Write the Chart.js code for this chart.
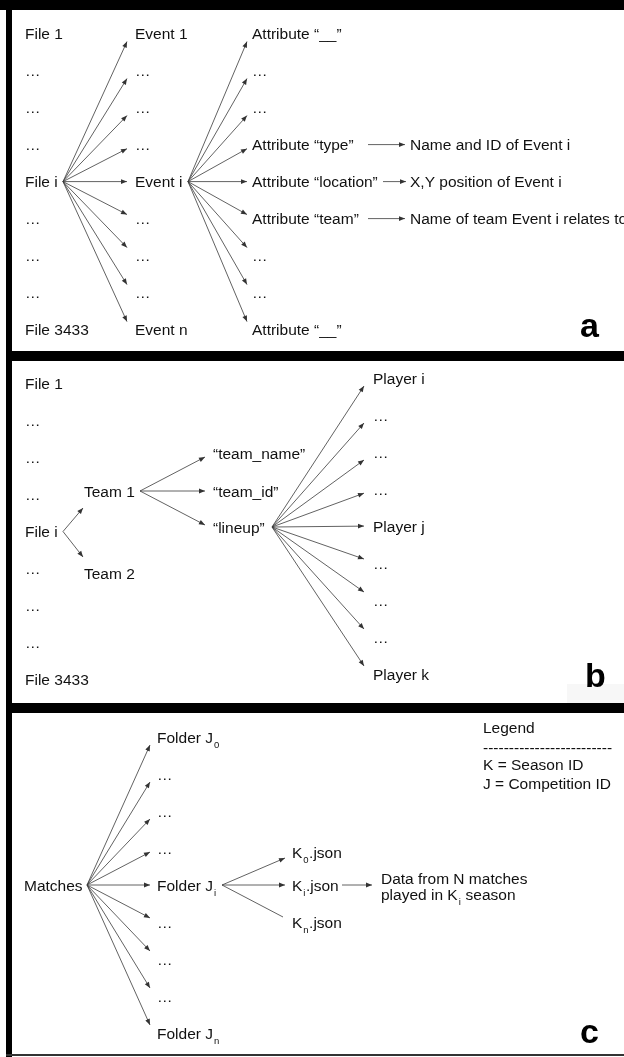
<!DOCTYPE html>
<html><head><meta charset="utf-8">
<script src="https://cdn.jsdelivr.net/npm/chart.js@4.4.0/dist/chart.umd.min.js"></script>
<style>html,body{margin:0;padding:0;background:#fff;}#wrap{width:624px;height:1057px;position:relative;}</style>
</head><body><div id="wrap"><canvas id="c"></canvas></div>
<script>
// ---------------- data (labels) ----------------
const aFiles = ["File 1","…","…","…","File i","…","…","…","File 3433"];
const aEvents = ["Event 1","…","…","…","Event i","…","…","…","Event n"];
const aAttributes = ["Attribute “__”","…","…","Attribute “type”","Attribute “location”","Attribute “team”","…","…","Attribute “__”"];
const aDetails = ["Name and ID of Event i","X,Y position of Event i","Name of team Event i relates to"];
const bFiles = ["File 1","…","…","…","File i","…","…","…","File 3433"];
const bTeams = ["Team 1","Team 2"];
const bTeamFields = ["“team_name”","“team_id”","“lineup”"];
const bPlayers = ["Player i","…","…","…","Player j","…","…","…","Player k"];
const cRoot = ["Matches"];
const cFolders = ["Folder J{0}","…","…","…","Folder J{i}","…","…","…","Folder J{n}"];
const cSeasons = ["K{0}.json","K{i}.json","K{n}.json"];
const cDetail = ["Data from N matches","played in K{i} season"];
const cLegend = ["Legend","-------------------------","K = Season ID","J = Competition ID"];
const panelLetters = ["a","b","c"];

// ---------------- layout (diagram coordinates) ----------------
const FONT = 15.5, CAP = 5.5;
const rowA = i => 33.6 + 37 * i;
const rowB = i => 383.5 + 37 * i;
const rowP = i => 378 + 37 * i;
const rowC = i => 737 + 37 * i;
const LAY = {
  a: { xFile: 25, xEvent: 135, xAttr: 252, xDetail: 410, srcFile: 63, srcEvent: 188, endEvent: 127, endAttr: 247,
       detailArrows: [[368, 405], [383, 406], [368, 405]], letter: [580, 337] },
  b: { xFile: 25, xTeam: 84, teamY: [491, 573], srcFile: 63, teamEnd: 83, teamArrowY: [508, 557], srcTeam: 140,
       xField: 213, fieldY: [453, 491, 527], fieldEnd: 205, fieldEndY: [457, 491, 525], srcLineup: [272, 527],
       xPlayer: 373, endPlayer: 364, letter: [585, 687] },
  c: { xRoot: 24, rootY: 885, srcRoot: 87, xFolder: 157, endFolder: 150, srcFolder: 222, xSeason: 292,
       seasonY: [852, 885, 922], seasonEnd: [[285, 858, true], [285, 885, true], [283, 917, false]],
       detailArrow: [342, 372], xDetail: 381, detailY: [878, 894.6], xLegend: 483, legendBase: [733, 752.5, 770, 789],
       letter: [580, 1043] }
};

// ---------------- build edges ----------------
const edges = [];
function adj(dy) { return -Math.sign(dy) * Math.min(8, Math.abs(dy) * 0.11); }
function fan(sx, sy, ex, ys) {
  ys.forEach(ty => edges.push({ x1: sx, y1: sy, x2: ex, y2: ty + adj(ty - sy), head: true }));
}
// panel a
fan(LAY.a.srcFile, rowA(4), LAY.a.endEvent, aEvents.map((_, i) => rowA(i)));
fan(LAY.a.srcEvent, rowA(4), LAY.a.endAttr, aAttributes.map((_, i) => rowA(i)));
aDetails.forEach((_, k) => edges.push({ x1: LAY.a.detailArrows[k][0], y1: rowA(3 + k), x2: LAY.a.detailArrows[k][1], y2: rowA(3 + k), head: true }));
// panel b
bTeams.forEach((_, k) => edges.push({ x1: LAY.b.srcFile, y1: rowB(4), x2: LAY.b.teamEnd, y2: LAY.b.teamArrowY[k], head: true }));
bTeamFields.forEach((_, k) => edges.push({ x1: LAY.b.srcTeam, y1: LAY.b.teamY[0], x2: LAY.b.fieldEnd, y2: LAY.b.fieldEndY[k], head: true }));
fan(LAY.b.srcLineup[0], LAY.b.srcLineup[1], LAY.b.endPlayer, bPlayers.map((_, i) => rowP(i)));
// panel c
fan(LAY.c.srcRoot, LAY.c.rootY, LAY.c.endFolder, cFolders.map((_, i) => rowC(i)));
cSeasons.forEach((_, k) => edges.push({ x1: LAY.c.srcFolder, y1: rowC(4), x2: LAY.c.seasonEnd[k][0], y2: LAY.c.seasonEnd[k][1], head: LAY.c.seasonEnd[k][2] }));
edges.push({ x1: LAY.c.detailArrow[0], y1: LAY.c.seasonY[1], x2: LAY.c.detailArrow[1], y2: LAY.c.seasonY[1], head: true });

// ---------------- texts ----------------
const texts = [];
function addCol(arr, x, rowFn) { arr.forEach((t, i) => texts.push({ t, x, y: rowFn(i) })); }
addCol(aFiles, LAY.a.xFile, rowA);
addCol(aEvents, LAY.a.xEvent, rowA);
addCol(aAttributes, LAY.a.xAttr, rowA);
aDetails.forEach((t, k) => texts.push({ t, x: LAY.a.xDetail, y: rowA(3 + k) }));
addCol(bFiles, LAY.b.xFile, rowB);
bTeams.forEach((t, k) => texts.push({ t, x: LAY.b.xTeam, y: LAY.b.teamY[k] }));
bTeamFields.forEach((t, k) => texts.push({ t, x: LAY.b.xField, y: LAY.b.fieldY[k] }));
addCol(bPlayers, LAY.b.xPlayer, rowP);
texts.push({ t: cRoot[0], x: LAY.c.xRoot, y: LAY.c.rootY });
addCol(cFolders, LAY.c.xFolder, rowC);
cSeasons.forEach((t, k) => texts.push({ t, x: LAY.c.xSeason, y: LAY.c.seasonY[k] }));
cDetail.forEach((t, k) => texts.push({ t, x: LAY.c.xDetail, y: LAY.c.detailY[k] }));
cLegend.forEach((t, k) => texts.push({ t, x: LAY.c.xLegend, y: LAY.c.legendBase[k] - CAP }));
const letterPos = [LAY.a.letter, LAY.b.letter, LAY.c.letter];

// ---------------- drawing plugin ----------------
const FAM = '"Liberation Sans", Arial, sans-serif';
function drawRich(ctx, str, px, py) {
  const parts = str.split(/(\{[^}]+\})/);
  let x = px;
  parts.forEach(p => {
    if (!p) return;
    if (p[0] === '{') {
      const s = p.slice(1, -1);
      ctx.font = '9.5px ' + FAM;
      x += 1;
      ctx.fillText(s, x, py + 5);
      x += ctx.measureText(s).width + 0.5;
      ctx.font = FONT + 'px ' + FAM;
    } else {
      ctx.fillText(p, x, py);
      x += ctx.measureText(p).width;
    }
  });
}
const diagramPlugin = {
  id: 'diagram',
  beforeDraw(chart) {
    const ctx = chart.ctx;
    ctx.save(); ctx.fillStyle = '#fff'; ctx.fillRect(0, 0, chart.width, chart.height);
    ctx.fillStyle = '#f7f7f7'; ctx.fillRect(567, 684, 57, 19);
    ctx.restore();
  },
  afterDatasetsDraw(chart) {
    const ctx = chart.ctx, xs = chart.scales.x, ys = chart.scales.y;
    ctx.save();
    ctx.fillStyle = '#333';
    edges.forEach(e => {
      if (!e.head) return;
      const x1 = xs.getPixelForValue(e.x1), y1 = ys.getPixelForValue(e.y1);
      const x2 = xs.getPixelForValue(e.x2), y2 = ys.getPixelForValue(e.y2);
      const a = Math.atan2(y2 - y1, x2 - x1), len = 6, w = 2.4;
      ctx.beginPath();
      ctx.moveTo(x2, y2);
      ctx.lineTo(x2 - len * Math.cos(a) + w * Math.sin(a), y2 - len * Math.sin(a) - w * Math.cos(a));
      ctx.lineTo(x2 - len * Math.cos(a) - w * Math.sin(a), y2 - len * Math.sin(a) + w * Math.cos(a));
      ctx.closePath(); ctx.fill();
    });
    // texts
    ctx.fillStyle = '#111';
    ctx.textBaseline = 'alphabetic'; ctx.textAlign = 'left';
    ctx.font = FONT + 'px ' + FAM;
    texts.forEach(o => drawRich(ctx, o.t, xs.getPixelForValue(o.x), ys.getPixelForValue(o.y + CAP)));
    ctx.fillStyle = '#000';
    ctx.font = 'bold 34px ' + FAM;
    panelLetters.forEach((l, k) => ctx.fillText(l, xs.getPixelForValue(letterPos[k][0]), ys.getPixelForValue(letterPos[k][1])));
    // frame
    ctx.fillStyle = '#000';
    ctx.fillRect(0, 0, 624, 10);
    ctx.fillRect(6, 0, 6, 1057);
    ctx.fillRect(6, 351, 618, 10);
    ctx.fillRect(6, 703, 618, 10);
    ctx.fillStyle = '#333';
    ctx.fillRect(6, 1054, 618, 2);
    ctx.restore();
  }
};

new Chart(document.getElementById('c'), {
  type: 'scatter',
  data: {
    datasets: edges.map(e => ({
      data: [{ x: e.x1, y: e.y1 }, { x: e.x2, y: e.y2 }],
      showLine: true, borderColor: '#3a3a3a', borderWidth: 0.8, pointRadius: 0, pointHoverRadius: 0, fill: false, tension: 0
    }))
  },
  options: {
    responsive: true, maintainAspectRatio: false, animation: false, events: [],
    layout: { padding: 0 },
    plugins: { legend: { display: false }, tooltip: { enabled: false } },
    scales: {
      x: { type: 'linear', min: 0, max: 624, display: false },
      y: { type: 'linear', min: 0, max: 1057, reverse: true, display: false }
    }
  },
  plugins: [diagramPlugin]
});
</script></body></html>
